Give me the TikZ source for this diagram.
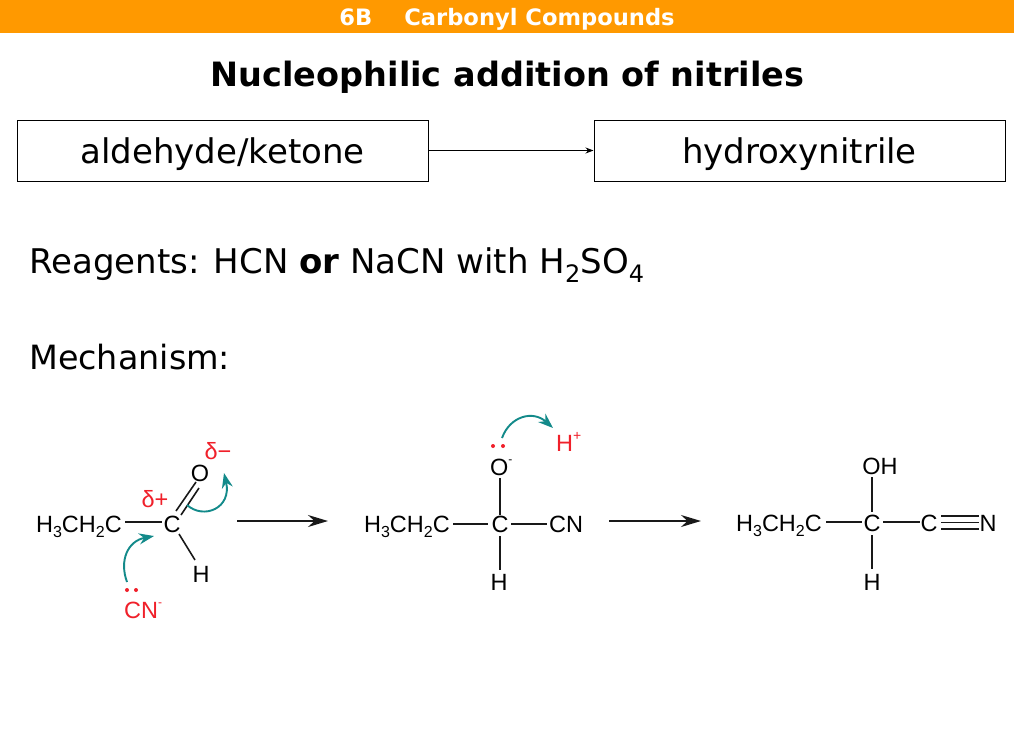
\documentclass[tikz,border=0pt]{standalone}
\usepackage{fontspec}
\setmainfont{DejaVu Sans}
\newfontfamily\chemf{Liberation Sans}
\usetikzlibrary{arrows.meta}
\definecolor{barorange}{HTML}{FF9900}
\definecolor{teal1}{HTML}{138A8A}
\definecolor{chemred}{HTML}{F0202A}
\newcommand{\sz}[1]{\fontsize{#1}{#1}\selectfont}
\newcommand{\chsub}[1]{\raisebox{-0.25em}{\sz{16}#1}}
\newcommand{\txsub}[1]{\raisebox{-0.28em}{\sz{24}#1}}
\tikzset{
  x=1pt,y=-1pt,
  flowbox/.style={draw=black,line width=1pt,minimum width=411pt,minimum height=61pt,inner sep=0pt,text height=30pt,text depth=5pt,font=\sz{34}},
  bodytext/.style={anchor=west,inner sep=0pt,font=\sz{34}},
  atom/.style={inner sep=0pt,text=black,font=\chemf\sz{23.5}},
  redlabel/.style={inner sep=0pt,text=chemred,font=\chemf\sz{23.5}},
  bond/.style={draw=black!90,line width=1.6pt},
  dotmark/.style={circle,fill=chemred,inner sep=0pt,minimum size=4pt},
  mainarrow/.style={draw=black!90,line width=1.6pt,-{Stealth[length=20pt,width=12pt]}},
  curly/.style={draw=teal1,line width=1.9pt,-{Stealth[length=15pt,width=11pt]}},
}
\begin{document}
\begin{tikzpicture}
\useasboundingbox (0,0) rectangle (1014,736);
\fill[white] (0,0) rectangle (1014,736);
\fill[barorange] (0,0) rectangle (1014,33);
\node[inner sep=0pt,text=white,font=\bfseries\sz{22.6}] (hdr) at (507,19) {6B\hspace{32pt}Carbonyl Compounds};
\node[inner sep=0pt,font=\bfseries\sz{33.5}] (title) at (507.5,77) {Nucleophilic addition of nitriles};
\node[flowbox] (ald) at (222.5,150.5) {aldehyde/ketone};
\node[flowbox] (hyd) at (799.5,150.5) {hydroxynitrile};
\draw[line width=1pt,-{Stealth[length=8pt,width=6pt]}] (ald) -- (hyd);
\node[bodytext] (reag) at (29,265) {Reagents: HCN \textbf{or} NaCN with H\txsub{2}SO\txsub{4}};
\node[bodytext,font=\sz{33.4}] (mech) at (29,357) {Mechanism:};

% molecule 1
\node[atom,anchor=base east] (a1) at (122,532) {H\chsub{3}CH\chsub{2}C};
\node[atom] (a2) at (172,524) {C};
\node[atom] (a3) at (200,473) {O};
\node[atom] (a4) at (201,574) {H};
\node[redlabel] (a5) at (155,499) {δ+};
\node[redlabel] (a6) at (218,451) {δ−};
\node[redlabel,anchor=west] (a7) at (124,610) {CN\raisebox{0.5em}{\sz{12}-}};
\node[dotmark] (a8) at (127,590) {};
\node[dotmark] (a9) at (136,590) {};
\coordinate (b1) at (125,522);
\coordinate (b2) at (162,522);
\draw[bond] (b1) -- (b2);
\coordinate (d1) at (176,511);
\coordinate (d2) at (196,482);
\coordinate (d3) at (181,515);
\coordinate (d4) at (199,488);
\draw[bond] (d1) -- (d2);
\draw[bond] (d3) -- (d4);
\coordinate (h1) at (179,534);
\coordinate (h2) at (195,560);
\draw[bond] (h1) -- (h2);
\coordinate (c1) at (187,505);
\coordinate (c2) at (224,473);
\draw[curly] (c1) .. controls (204,520) and (232,508) .. (c2);
\coordinate (c3) at (127,582);
\coordinate (c4) at (154,536);
\draw[curly] (c3) .. controls (119,560) and (128,541) .. (c4);
\coordinate (m1) at (237,521);
\coordinate (m2) at (328,521);
\draw[mainarrow] (m1) -- (m2);

% molecule 2
\node[atom,anchor=base east] (e1) at (450,532) {H\chsub{3}CH\chsub{2}C};
\node[atom] (e2) at (500,524) {C};
\node[atom,anchor=west] (e3) at (549,524) {CN};
\node[atom,anchor=west] (e4) at (490,467) {O\raisebox{0.5em}{\sz{12}-}};
\node[atom] (e5) at (499,582) {H};
\node[redlabel,anchor=west] (e6) at (556,442) {H\raisebox{0.45em}{\sz{14}+}};
\node[dotmark] (e7) at (493,446) {};
\node[dotmark] (e8) at (503,446) {};
\coordinate (f1) at (453,524);
\coordinate (f2) at (488,524);
\draw[bond] (f1) -- (f2);
\coordinate (f3) at (511,524);
\coordinate (f4) at (547,524);
\draw[bond] (f3) -- (f4);
\coordinate (f5) at (500,478);
\coordinate (f6) at (500,515);
\draw[bond] (f5) -- (f6);
\coordinate (f7) at (500,536);
\coordinate (f8) at (500,570);
\draw[bond] (f7) -- (f8);
\coordinate (c5) at (502,438);
\coordinate (c6) at (553,428);
\draw[curly] (c5) .. controls (510,416) and (533,410) .. (c6);
\coordinate (m3) at (609,521);
\coordinate (m4) at (701,521);
\draw[mainarrow] (m3) -- (m4);

% molecule 3
\node[atom,anchor=base east] (g1) at (822,531) {H\chsub{3}CH\chsub{2}C};
\node[atom] (g2) at (872,523) {C};
\node[atom] (g3) at (929,523) {C};
\node[atom] (g4) at (988,523) {N};
\node[atom] (g5) at (880,466) {OH};
\node[atom] (g6) at (872,582) {H};
\coordinate (k1) at (826,522);
\coordinate (k2) at (862,522);
\draw[bond] (k1) -- (k2);
\coordinate (k3) at (883,522);
\coordinate (k4) at (920,522);
\draw[bond] (k3) -- (k4);
\coordinate (k5) at (872,477);
\coordinate (k6) at (872,512);
\draw[bond] (k5) -- (k6);
\coordinate (k7) at (872,535);
\coordinate (k8) at (872,569);
\draw[bond] (k7) -- (k8);
\coordinate (t1) at (941,516);
\coordinate (t2) at (979,516);
\coordinate (t3) at (941,522.5);
\coordinate (t4) at (979,522.5);
\coordinate (t5) at (941,529);
\coordinate (t6) at (979,529);
\draw[bond] (t1) -- (t2);
\draw[bond] (t3) -- (t4);
\draw[bond] (t5) -- (t6);
\end{tikzpicture}
\end{document}
